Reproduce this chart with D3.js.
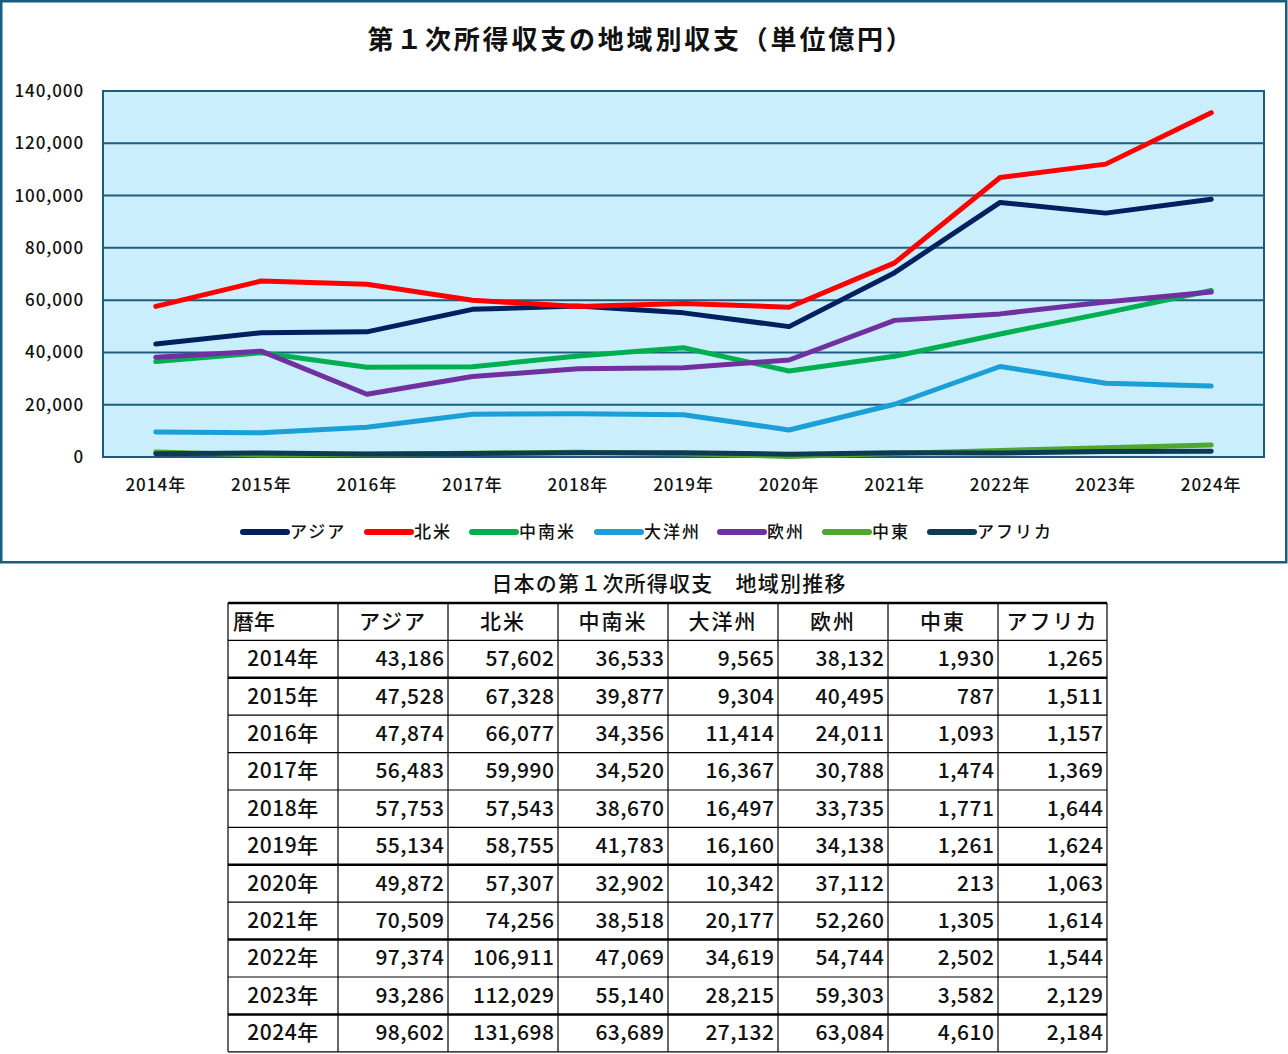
<!DOCTYPE html>
<html><head><meta charset="utf-8">
<script src="https://cdn.jsdelivr.net/npm/d3@7"></script>
<style>
html,body{margin:0;padding:0;background:#fff;}
svg text{font-family:"Noto Sans CJK JP","Noto Sans",sans-serif;}
</style></head>
<body><svg id="c" width="1288" height="1054"></svg>
<script>
const years = ["2014年","2015年","2016年","2017年","2018年","2019年","2020年","2021年","2022年","2023年","2024年"];
const seriesNames = ["アジア","北米","中南米","大洋州","欧州","中東","アフリカ"];
const asia    = [43186,47528,47874,56483,57753,55134,49872,70509,97374,93286,98602];
const northAm = [57602,67328,66077,59990,57543,58755,57307,74256,106911,112029,131698];
const latinAm = [36533,39877,34356,34520,38670,41783,32902,38518,47069,55140,63689];
const oceania = [9565,9304,11414,16367,16497,16160,10342,20177,34619,28215,27132];
const europe  = [38132,40495,24011,30788,33735,34138,37112,52260,54744,59303,63084];
const midEast = [1930,787,1093,1474,1771,1261,213,1305,2502,3582,4610];
const africa  = [1265,1511,1157,1369,1644,1624,1063,1614,1544,2129,2184];
const yTicks = [0,20000,40000,60000,80000,100000,120000,140000];
const colors = ["#002060","#FF0000","#00B050","#1A9FD8","#7030A0","#4EA72E","#0E3A52"];
const seriesVals = [asia,northAm,latinAm,oceania,europe,midEast,africa];
const chartTitle = "第１次所得収支の地域別収支（単位億円）";
const tableTitle = "日本の第１次所得収支　地域別推移";
const tableHeader = ["暦年"].concat(seriesNames);
const thickAfter = [0,5,7,9]; // data row indices followed by thick line

const svg = d3.select("#c");
const fmt = d3.format(",");
const frameColor = "#1C5D7F";

// chart frame
svg.append("rect").attr("x",1.25).attr("y",1.25).attr("width",1285).attr("height",561)
  .attr("fill","#fff").attr("stroke",frameColor).attr("stroke-width",2.5);

svg.append("text").attr("x",641).attr("y",49).attr("text-anchor","middle")
  .attr("font-size",26).attr("font-weight","bold").attr("letter-spacing",2.8).attr("fill","#111").text(chartTitle);

const L=103,R=1264,T=91,B=457;
const x = d3.scaleBand().domain(years).range([L,R]);
const y = d3.scaleLinear().domain([0,140000]).range([B,T]);

svg.append("rect").attr("x",L).attr("y",T).attr("width",R-L).attr("height",B-T).attr("fill","#CAEEFB");

// gridlines
svg.append("g").selectAll("line").data(yTicks).join("line")
  .attr("x1",L).attr("x2",R).attr("y1",d=>y(d)).attr("y2",d=>y(d))
  .attr("stroke",frameColor).attr("stroke-width",2);
svg.append("rect").attr("x",L).attr("y",T).attr("width",R-L).attr("height",B-T)
  .attr("fill","none").attr("stroke",frameColor).attr("stroke-width",2);

// y axis labels
const yAxis = d3.axisLeft(y).tickValues(yTicks).tickFormat(fmt).tickSize(0).tickPadding(19);
const gy = svg.append("g").attr("transform",`translate(${L},0)`).call(yAxis);
gy.select(".domain").remove();
gy.selectAll("text").attr("font-size",17).attr("font-weight",500).attr("fill","#111")
  .attr("letter-spacing",0.9).attr("font-family",'"Noto Sans CJK JP",sans-serif');

// x axis labels
const xAxis = d3.axisBottom(x).tickSize(0).tickPadding(22);
const gx = svg.append("g").attr("transform",`translate(0,${B})`).call(xAxis);
gx.select(".domain").remove();
gx.selectAll("text").attr("font-size",17).attr("font-weight",500).attr("fill","#111")
  .attr("letter-spacing",1).attr("font-family",'"Noto Sans CJK JP",sans-serif');

// lines
const line = d3.line().x((d,i)=>x(years[i])+x.bandwidth()/2).y(d=>y(d));
seriesVals.forEach((vals,k)=>{
  svg.append("path").datum(vals).attr("d",line).attr("fill","none")
    .attr("stroke",colors[k]).attr("stroke-width",5)
    .attr("stroke-linecap","round").attr("stroke-linejoin","round");
});

// legend
const legX = [243,367,472,597,720,825,930];
const lg = svg.append("g");
seriesNames.forEach((n,k)=>{
  lg.append("line").attr("x1",legX[k]).attr("x2",legX[k]+44).attr("y1",532).attr("y2",532)
    .attr("stroke",colors[k]).attr("stroke-width",6).attr("stroke-linecap","round");
  lg.append("text").attr("x",legX[k]+47).attr("y",538).attr("font-size",17).attr("font-weight",500)
    .attr("letter-spacing",2).attr("fill","#111").text(n);
});

// table
svg.append("text").attr("x",669).attr("y",591).attr("text-anchor","middle")
  .attr("font-size",21).attr("font-weight",500).attr("letter-spacing",1.2).attr("fill","#111").text(tableTitle);

const colEdges = [228,338,448,558,668,778,888,998,1107];
const rowTop = 603, rowH = 37.4;
const tg = svg.append("g");
const nRows = years.length+1;
// header
tableHeader.forEach((h,c)=>{
  const t = tg.append("text").attr("y",rowTop+rowH/2+7).attr("font-size",21).attr("font-weight",500).attr("fill","#111").text(h);
  if(c===0) t.attr("x",colEdges[0]+5);
  else t.attr("x",(colEdges[c]+colEdges[c+1])/2).attr("text-anchor","middle").attr("letter-spacing",2);
});
years.forEach((yr,r)=>{
  const cy = rowTop+rowH*(r+1)+rowH/2+7;
  tg.append("text").attr("x",(colEdges[0]+colEdges[1])/2).attr("y",cy).attr("text-anchor","middle")
    .attr("font-size",21).attr("font-weight",500).attr("letter-spacing",0.5).attr("fill","#111").text(yr);
  seriesVals.forEach((vals,k)=>{
    tg.append("text").attr("x",colEdges[k+2]-3.5).attr("y",cy).attr("text-anchor","end")
      .attr("font-size",21).attr("font-weight",500).attr("letter-spacing",0.5).attr("fill","#111").text(fmt(vals[r]));
  });
});
// grid lines
for(let r=0;r<=nRows;r++){
  const yy = rowTop+rowH*r;
  const thick = r===0 || thickAfter.includes(r-2);
  tg.append("line").attr("x1",colEdges[0]).attr("x2",colEdges[colEdges.length-1])
    .attr("y1",yy).attr("y2",yy).attr("stroke","#000").attr("stroke-width",thick?2.5:1.2);
}
colEdges.forEach(cx=>{
  tg.append("line").attr("x1",cx).attr("x2",cx).attr("y1",rowTop).attr("y2",rowTop+rowH*nRows)
    .attr("stroke","#000").attr("stroke-width",1.2);
});
</script></body></html>
